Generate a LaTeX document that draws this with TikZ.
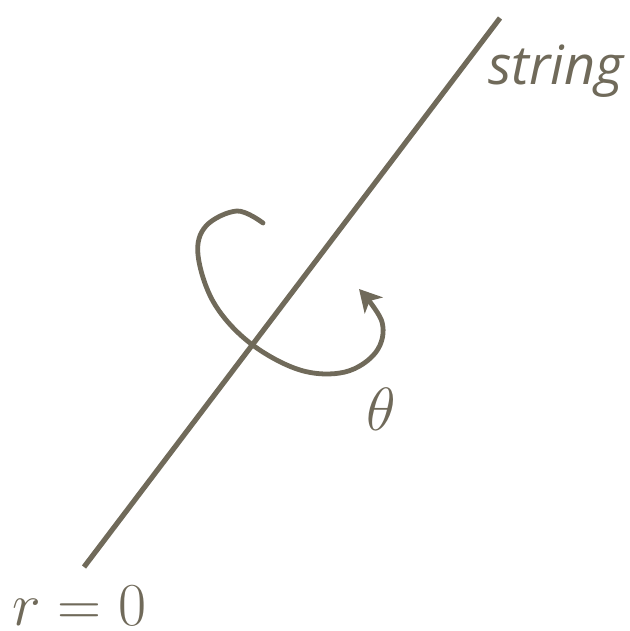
\RequirePackage{fix-cm}
\documentclass[tikz,border=0pt]{standalone}
\usepackage{fontspec}
\usetikzlibrary{arrows.meta}
\newfontfamily\handfont{Open Sans}
\definecolor{ink}{RGB}{112,106,90}

\begin{document}
\begin{tikzpicture}[
  x=0.5pt, y=-0.5pt,
  every node/.style={text=ink, inner sep=0},
  stringline/.style={draw=ink, line width=2.6pt},
  twist/.style={draw=ink, line width=2.4pt, line cap=round,
                -{Stealth[length=11pt, width=12pt, inset=3pt]}},
  mathlabel/.style={font=\fontsize{30.5}{30.5}\selectfont},
  >=Stealth
]
\useasboundingbox (0,0) rectangle (630,631);

% the string
\coordinate (base) at (84,567);
\coordinate (top) at (500,18);
\draw[stringline] (base) -- (top);

% rotation arrow
\draw[twist] plot[smooth, tension=0.6] coordinates {
  (263,223) (237,211) (206,226) (198,255) (214,303) (250,343)
  (300,370) (345,372) (376,352) (382,322) (359,289)
};

% labels
\node[font=\handfont\itshape\fontsize{27}{27}\selectfont, anchor=base]
  (stringlabel) at (556,84) {string};
\node[mathlabel] (angle) at (381,409) {$\theta$};
\node[mathlabel, anchor=base west] (origin) at (12,625) {$r=0$};

\end{tikzpicture}
\end{document}
